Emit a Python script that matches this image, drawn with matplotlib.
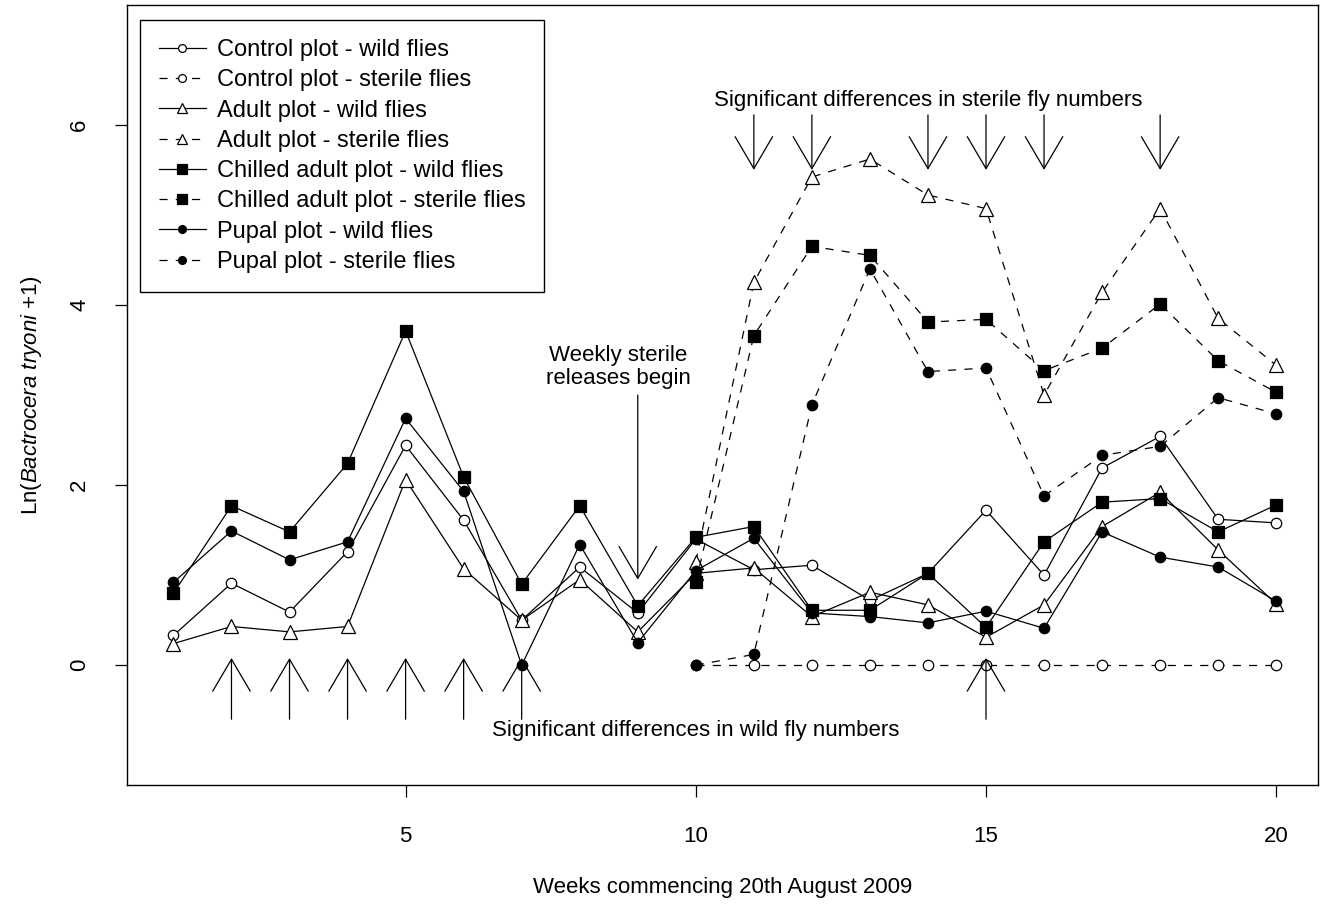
import numpy as np
import matplotlib
matplotlib.use("Agg")
import matplotlib.pyplot as plt

plt.rcParams['font.family'] = ['Liberation Sans', 'DejaVu Sans']
plt.rcParams['mathtext.fontset'] = 'custom'
plt.rcParams['mathtext.rm'] = 'Liberation Sans'
plt.rcParams['mathtext.it'] = 'Liberation Sans:italic'

nan = np.nan
weeks = np.arange(1, 21)

control_wild = [0.33, 0.91, 0.59, 1.26, 2.44, 1.61, 0.50, 1.09, 0.58, 1.40,
                1.06, 1.11, 0.72, 1.02, 1.72, 1.00, 2.19, 2.54, 1.62, 1.58]
control_sterile = [nan] * 9 + [0, 0, 0, 0, 0, 0, 0, 0, 0, 0, 0]
adult_wild = [0.24, 0.43, 0.37, 0.43, 2.06, 1.07, 0.50, 0.95, 0.37, 1.02,
              1.08, 0.54, 0.81, 0.67, 0.31, 0.67, 1.54, 1.92, 1.28, 0.68]
adult_sterile = [nan] * 9 + [1.15, 4.25, 5.42, 5.62, 5.22, 5.07, 3.00, 4.14, 5.07, 3.85, 3.33]
chilled_wild = [0.80, 1.77, 1.48, 2.24, 3.71, 2.09, 0.90, 1.77, 0.66, 1.42,
                1.54, 0.61, 0.61, 1.02, 0.42, 1.37, 1.81, 1.85, 1.48, 1.78]
chilled_sterile = [nan] * 9 + [0.92, 3.66, 4.65, 4.55, 3.81, 3.84, 3.27, 3.52, 4.01, 3.38, 3.03]
pupal_wild = [0.92, 1.49, 1.17, 1.37, 2.74, 1.93, 0.00, 1.34, 0.25, 1.05,
              1.41, 0.58, 0.54, 0.47, 0.60, 0.41, 1.48, 1.20, 1.09, 0.71]
pupal_sterile = [nan] * 9 + [0.00, 0.12, 2.89, 4.40, 3.26, 3.30, 1.88, 2.33, 2.43, 2.97, 2.79]

sterile_arrow_weeks = [11, 12, 14, 15, 16, 18]
wild_arrow_weeks = [2, 3, 4, 5, 6, 7, 15]
release_week = 9

series = [
    (control_wild, 'Control plot - wild flies', 'o', 'white', '-'),
    (control_sterile, 'Control plot - sterile flies', 'o', 'white', '--'),
    (adult_wild, 'Adult plot - wild flies', '^', 'white', '-'),
    (adult_sterile, 'Adult plot - sterile flies', '^', 'white', '--'),
    (chilled_wild, 'Chilled adult plot - wild flies', 's', 'black', '-'),
    (chilled_sterile, 'Chilled adult plot - sterile flies', 's', 'black', '--'),
    (pupal_wild, 'Pupal plot - wild flies', 'o', 'black', '-'),
    (pupal_sterile, 'Pupal plot - sterile flies', 'o', 'black', '--'),
]
msizes = {'o': 7.5, '^': 10.5, 's': 9.0}

fig = plt.figure(figsize=(13.2, 9.05), dpi=100)
ax = fig.add_axes([127 / 1320, 1 - 785 / 905, 1191 / 1320, 780 / 905])

for vals, label, mk, fc, ls in series:
    line, = ax.plot(weeks, vals, color='black', lw=0.9, marker=mk,
                    ms=msizes[mk], mfc=fc, mec='black', mew=0.9, label=label)
    if ls == '--':
        line.set_dashes((6.5, 6.5))

ax.set_xlim(0.2, 20.72)
ax.set_ylim(-1.33, 7.33)
ax.set_xticks([5, 10, 15, 20])
ax.set_yticks([0, 2, 4, 6])
ax.tick_params(axis='both', direction='out', length=8.5, width=0.9, labelsize=16)
ax.tick_params(axis='x', pad=21)
ax.tick_params(axis='y', pad=18)
for t in ax.get_yticklabels():
    t.set_rotation(90)
    t.set_va('center')
for sp in ax.spines.values():
    sp.set_linewidth(1.0)

ax.set_xlabel('Weeks commencing 20th August 2009', fontsize=16)
ax.xaxis.set_label_coords(0.5, -0.118)
ax.set_ylabel(r'Ln($\mathit{Bactrocera\ tryoni}$ +1)', fontsize=16)
ax.yaxis.set_label_coords(-0.07, 0.5)

leg = ax.legend(loc='upper left', bbox_to_anchor=(0.0109, 0.9805), borderaxespad=0,
                fontsize=17, frameon=True, fancybox=False, edgecolor='black',
                framealpha=1, borderpad=0.8, handlelength=2.0, handletextpad=0.45,
                labelspacing=0.35, markerscale=0.75)
leg.get_frame().set_linewidth(1.0)

aprops = dict(arrowstyle='->,head_length=2.3,head_width=1.35', lw=0.9,
              color='black', shrinkA=0, shrinkB=0, mutation_scale=10)
for w in sterile_arrow_weeks:
    ax.annotate('', xy=(w, 5.5), xytext=(w, 6.11), arrowprops=aprops)
for w in wild_arrow_weeks:
    ax.annotate('', xy=(w, 0.08), xytext=(w, -0.6), arrowprops=aprops)
ax.annotate('', xy=(release_week, 0.95), xytext=(release_week, 3.0), arrowprops=aprops)

ax.text(14.0, 6.27, 'Significant differences in sterile fly numbers', fontsize=16,
        ha='center', va='center')
ax.text(10.0, -0.72, 'Significant differences in wild fly numbers', fontsize=16,
        ha='center', va='center')
ax.text(8.67, 3.31, 'Weekly sterile\nreleases begin', fontsize=16,
        ha='center', va='center', linespacing=1.1)

fig.savefig('out.png', dpi=100)
